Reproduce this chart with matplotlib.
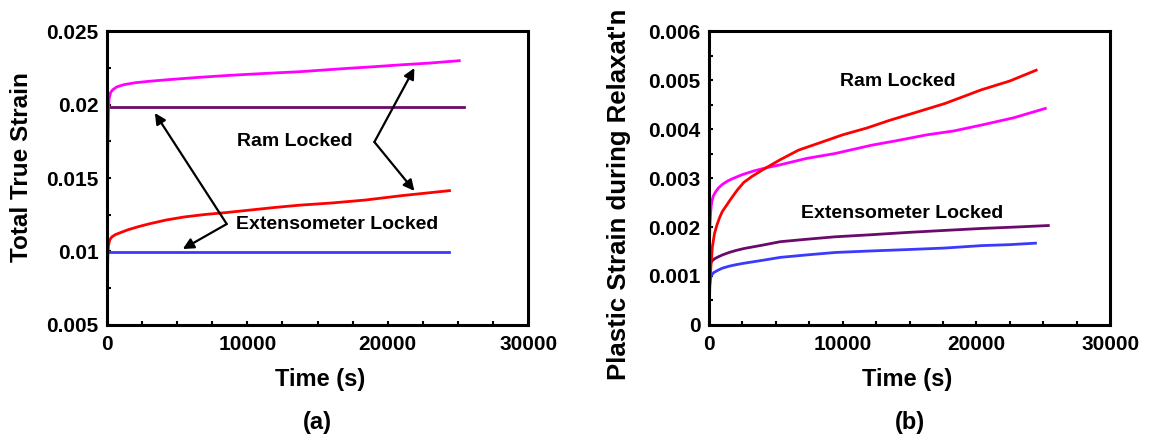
import numpy as np
import matplotlib
matplotlib.use("Agg")
import matplotlib.pyplot as plt
from matplotlib.ticker import MultipleLocator, FuncFormatter

plt.rcParams['font.family'] = ['Liberation Sans', 'DejaVu Sans']
plt.rcParams['font.weight'] = 'bold'

# (a) total true strain vs time
t_ram_mag = [0, 20, 50, 100, 150, 250, 400, 700, 1200, 2000, 3000, 4500, 6600, 8500, 10000, 12000,
             13700, 15500, 17000, 19000, 20800, 23000, 25100]
e_ram_mag = [0.005, 0.010, 0.0165, 0.0195, 0.0204, 0.0208, 0.0210, 0.0212, 0.02135, 0.02148, 0.02158,
             0.0217, 0.02185, 0.02197, 0.02205, 0.02215, 0.02223, 0.02235, 0.02245, 0.02257, 0.02269,
             0.02282, 0.02298]
t_ram_red = [0, 20, 50, 100, 200, 350, 600, 1000, 1500, 2200, 3000, 4200, 5500, 7000, 8500, 10000,
             12000, 13700, 16000, 18400, 21000, 24400]
e_ram_red = [0.005, 0.0075, 0.0095, 0.0104, 0.0108, 0.0110, 0.01115, 0.0113, 0.01148, 0.01168, 0.01188,
             0.01214, 0.01235, 0.01252, 0.01265, 0.0128, 0.0130, 0.01315, 0.0133, 0.0135, 0.0138, 0.01414]
t_ext_pur = [0, 5000, 10000, 15000, 20000, 25400]
e_ext_pur = [0.01985, 0.01985, 0.01985, 0.01985, 0.01985, 0.01985]
t_ext_blu = [0, 5000, 10000, 15000, 20000, 24400]
e_ext_blu = [0.00995, 0.00995, 0.00995, 0.00995, 0.00995, 0.00995]

# (b) plastic strain during relaxation vs time
tp_red = [0, 20, 60, 137, 250, 410, 600, 800, 1000, 1230, 1600, 2100, 2600, 3200, 3965, 5300, 6700,
          8300, 9980, 11800, 13540, 15600, 17640, 20370, 22500, 24470]
ep_red = [0, 0.0004, 0.0008, 0.00119, 0.0016, 0.00187, 0.00205, 0.0022, 0.00232, 0.00241, 0.00256,
          0.00275, 0.00291, 0.00303, 0.00316, 0.00337, 0.00357, 0.00372, 0.00388, 0.00402, 0.00418,
          0.00435, 0.00452, 0.0048, 0.00498, 0.0052]
tp_mag = [0, 10, 30, 60, 120, 190, 300, 450, 680, 1000, 1400, 1780, 2500, 3420, 4300, 5330, 7300,
          9430, 12170, 14000, 16270, 18300, 20370, 22800, 25160]
ep_mag = [0, 0.0009, 0.0016, 0.002, 0.0023, 0.0025, 0.00262, 0.0027, 0.00279, 0.00287, 0.00294,
          0.00299, 0.00307, 0.00315, 0.00321, 0.00327, 0.0034, 0.0035, 0.00367, 0.00376, 0.00388,
          0.00396, 0.00408, 0.00423, 0.00442]
tp_pur = [0, 15, 40, 100, 200, 400, 680, 1000, 1500, 2000, 2600, 4000, 5330, 7300, 9430, 12000, 14900,
          17600, 20370, 23000, 25380]
ep_pur = [0, 0.0008, 0.0011, 0.00125, 0.0013, 0.00135, 0.00139, 0.00143, 0.00148, 0.00152, 0.00156,
          0.00163, 0.0017, 0.00175, 0.0018, 0.00184, 0.00189, 0.00193, 0.00197, 0.002, 0.00203]
tp_blu = [0, 15, 40, 100, 190, 350, 680, 1000, 1500, 2000, 2600, 4000, 5330, 7300, 9430, 12000, 14900,
          17600, 20370, 22500, 24420]
ep_blu = [0, 0.0006, 0.0008, 0.00095, 0.00102, 0.00107, 0.00112, 0.00116, 0.0012, 0.00123, 0.00126,
          0.00132, 0.00138, 0.00143, 0.00148, 0.00151, 0.00154, 0.00157, 0.00162, 0.00164, 0.00167]

MAG = '#ff00ff'
RED = '#ff0000'
PUR = '#6a0a6a'
BLU = '#3a3aff'

fig = plt.figure(figsize=(11.52, 4.38), dpi=100)
axa = fig.add_axes([0.0929, 0.258, 0.3655, 0.6712])
axb = fig.add_axes([0.6155, 0.258, 0.3481, 0.6712])

fmt = FuncFormatter(lambda v, p: '%g' % v)


def style(ax):
    for s in ax.spines.values():
        s.set_linewidth(2.2)
    ax.tick_params(which='both', direction='in', length=3, width=1.5, top=False, right=False,
                   labelsize=15)
    ax.tick_params(axis='x', pad=7)
    ax.tick_params(axis='y', pad=6)
    ax.xaxis.set_major_formatter(fmt)
    ax.yaxis.set_major_formatter(fmt)
    ax.set_xlim(0, 30000)
    ax.xaxis.set_major_locator(MultipleLocator(10000))
    ax.xaxis.set_minor_locator(MultipleLocator(2500))


lw = 2.0
axa.plot(t_ext_blu, e_ext_blu, color=BLU, lw=lw)
axa.plot(t_ext_pur, e_ext_pur, color=PUR, lw=lw)
axa.plot(t_ram_mag, e_ram_mag, color=MAG, lw=lw)
axa.plot(t_ram_red, e_ram_red, color=RED, lw=lw)
style(axa)
axa.set_ylim(0.005, 0.025)
axa.yaxis.set_major_locator(MultipleLocator(0.005))
axa.yaxis.set_minor_locator(MultipleLocator(0.0025))
axa.set_ylabel('Total True Strain', fontsize=17.5, fontweight='bold')
axa.yaxis.set_label_coords(-0.175, 0.536)
axa.set_xlabel('Time (s)', fontsize=17, fontweight='bold')
axa.xaxis.set_label_coords(0.506, -0.145)

arr = dict(arrowstyle='-|>', color='k', lw=1.6, mutation_scale=16, shrinkA=0, shrinkB=0)
axa.text(13400, 0.01745, 'Ram Locked', fontsize=14, fontweight='bold', ha='center', va='center')
axa.annotate('', xy=(21900, 0.02248), xytext=(19050, 0.01745), arrowprops=arr)
axa.annotate('', xy=(21900, 0.01412), xytext=(19050, 0.01745), arrowprops=arr)
axa.text(16400, 0.01187, 'Extensometer Locked', fontsize=14, fontweight='bold', ha='center', va='center')
axa.annotate('', xy=(3410, 0.01942), xytext=(8530, 0.01187), arrowprops=arr)
axa.annotate('', xy=(5400, 0.01017), xytext=(8530, 0.01187), arrowprops=arr)

axb.plot(tp_blu, ep_blu, color=BLU, lw=lw)
axb.plot(tp_pur, ep_pur, color=PUR, lw=lw)
axb.plot(tp_mag, ep_mag, color=MAG, lw=lw)
axb.plot(tp_red, ep_red, color=RED, lw=lw)
style(axb)
axb.set_ylim(0, 0.006)
axb.yaxis.set_major_locator(MultipleLocator(0.001))
axb.yaxis.set_minor_locator(MultipleLocator(0.0005))
axb.set_ylabel("Plastic Strain during Relaxat'n", fontsize=18.5, fontweight='bold')
axb.yaxis.set_label_coords(-0.195, 0.444)
axb.set_xlabel('Time (s)', fontsize=17, fontweight='bold')
axb.xaxis.set_label_coords(0.494, -0.145)
axb.text(14140, 0.00497, 'Ram Locked', fontsize=14, fontweight='bold', ha='center', va='center')
axb.text(14410, 0.00228, 'Extensometer Locked', fontsize=14, fontweight='bold', ha='center', va='center')

fig.text(317 / 1152, 1 - 423 / 438, '(a)', fontsize=17, fontweight='bold', ha='center', va='center')
fig.text(910 / 1152, 1 - 423 / 438, '(b)', fontsize=17, fontweight='bold', ha='center', va='center')

fig.savefig('out.png', dpi=100)
